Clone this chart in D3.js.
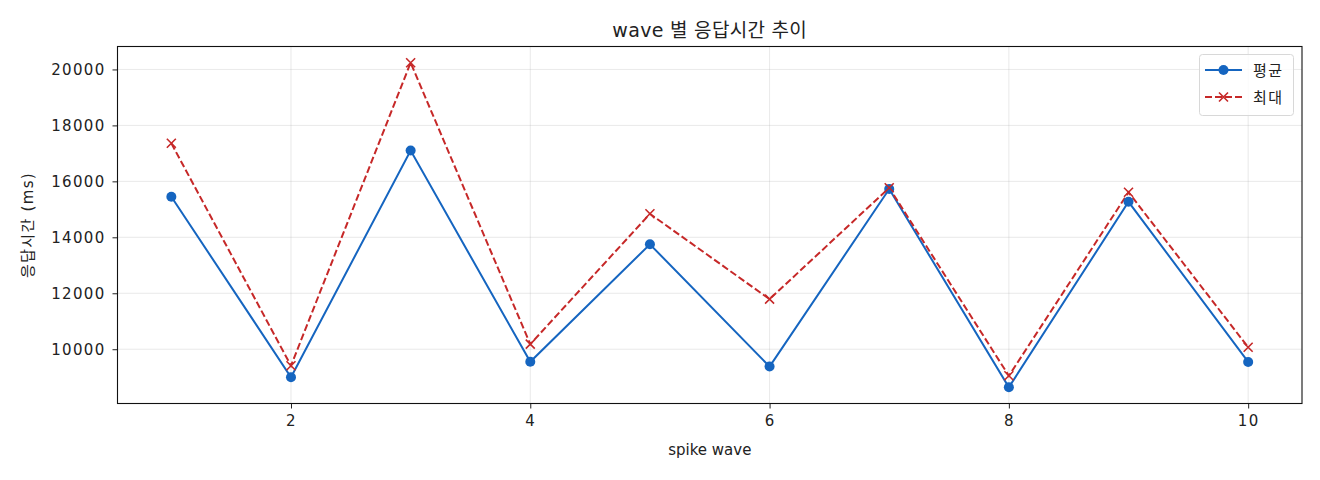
<!DOCTYPE html>
<html><head><meta charset="utf-8">
<script src="https://cdn.jsdelivr.net/npm/d3@7"></script>
<style>
body{margin:0;background:#fff;}
text{font-family:"DejaVu Sans","Noto Sans CJK KR",sans-serif;fill:#222;}
</style></head>
<body><svg id="c" width="1320" height="480"></svg>
<script>
const waves = [1,2,3,4,5,6,7,8,9,10];
const avgValues = [15450,9000,17100,9550,13750,9380,15725,8640,15270,9546];
const maxValues = [17360,9410,20240,10180,14840,11790,15770,9050,15610,10070];
const xTicks = [2,4,6,8,10];
const yTicks = [10000,12000,14000,16000,18000,20000];
const seriesNames = ["평균","최대"];
const title = "wave 별 응답시간 추이";
const xLabel = "spike wave";
const yLabel = "응답시간 (ms)";

const blue = "#1565C0", red = "#C62828";
const svg = d3.select("#c");
const L=117.5, R=1302, T=46.5, B=403.5;
const x = d3.scaleLinear().domain([0.55,10.45]).range([L,R]);
const allV = avgValues.concat(maxValues);
const mn=d3.min(allV), mx=d3.max(allV), pad=(mx-mn)*0.05;
const y = d3.scaleLinear().domain([mn-pad,mx+pad]).range([B,T]);

// grid
const g = svg.append("g");
g.selectAll(".gx").data(xTicks).join("line")
 .attr("x1",d=>x(d)).attr("x2",d=>x(d)).attr("y1",T).attr("y2",B)
 .attr("stroke","#b0b0b0").attr("stroke-opacity",0.35).attr("stroke-width",0.8);
g.selectAll(".gy").data(yTicks).join("line")
 .attr("x1",L).attr("x2",R).attr("y1",d=>y(d)).attr("y2",d=>y(d))
 .attr("stroke","#b0b0b0").attr("stroke-opacity",0.35).attr("stroke-width",0.8);

// axes
const xa = svg.append("g").attr("transform",`translate(0,${B})`)
 .call(d3.axisBottom(x).tickValues(xTicks).tickSize(5).tickPadding(7).tickFormat(d3.format("d")));
const ya = svg.append("g").attr("transform",`translate(${L},0)`)
 .call(d3.axisLeft(y).tickValues(yTicks).tickSize(5).tickPadding(7).tickFormat(d3.format("d")));
[xa,ya].forEach(a=>{a.select(".domain").remove();a.selectAll("text").style("font-size","15px").style("letter-spacing","1.3px").attr("fill","#222");a.selectAll("line").attr("stroke","#222");});

// lines
const line = vals => d3.line().x((d,i)=>x(waves[i])).y(d=>y(d))(vals);
svg.append("path").attr("d",line(avgValues)).attr("fill","none").attr("stroke",blue).attr("stroke-width",2);
svg.append("path").attr("d",line(maxValues)).attr("fill","none").attr("stroke",red).attr("stroke-width",2).attr("stroke-dasharray","7,3");
svg.selectAll(".pa").data(avgValues).join("circle")
 .attr("cx",(d,i)=>x(waves[i])).attr("cy",d=>y(d)).attr("r",5).attr("fill",blue);
const cross = (sel,cx,cy,s)=>sel.append("path")
 .attr("d",`M${cx-s},${cy-s}L${cx+s},${cy+s}M${cx-s},${cy+s}L${cx+s},${cy-s}`)
 .attr("stroke",red).attr("stroke-width",1.6).attr("fill","none");
maxValues.forEach((v,i)=>cross(svg,x(waves[i]),y(v),4.5));

// frame
svg.append("rect").attr("x",L).attr("y",T).attr("width",R-L).attr("height",B-T)
 .attr("fill","none").attr("stroke","#111").attr("stroke-width",1.1);

// labels
svg.append("text").attr("x",(L+R)/2).attr("y",37).attr("text-anchor","middle").style("font-size","19px").style("letter-spacing","0.3px").text(title);
svg.append("text").attr("x",(L+R)/2).attr("y",455).attr("text-anchor","middle").style("font-size","15px").text(xLabel);
svg.append("text").attr("transform",`translate(33,${(T+B)/2}) rotate(-90)`).attr("text-anchor","middle").style("font-size","15px").style("letter-spacing","1.3px").text(yLabel);

// legend
const lg = svg.append("g");
lg.append("rect").attr("x",1199.5).attr("y",54.5).attr("width",94).attr("height",61).attr("rx",3)
 .attr("fill","#fff").attr("fill-opacity",0.8).attr("stroke","#d8d8d8");
lg.append("line").attr("x1",1205).attr("x2",1242).attr("y1",70).attr("y2",70).attr("stroke",blue).attr("stroke-width",2);
lg.append("circle").attr("cx",1223.5).attr("cy",70).attr("r",5).attr("fill",blue);
lg.append("line").attr("x1",1205).attr("x2",1242).attr("y1",97).attr("y2",97).attr("stroke",red).attr("stroke-width",2).attr("stroke-dasharray","7,3");
cross(lg,1223.5,97,4.5);
lg.selectAll(".lt").data(seriesNames).join("text")
 .attr("x",1253).attr("y",(d,i)=>70+i*27+6).style("font-size","15px").style("letter-spacing","1.5px").text(d=>d);
</script></body></html>
